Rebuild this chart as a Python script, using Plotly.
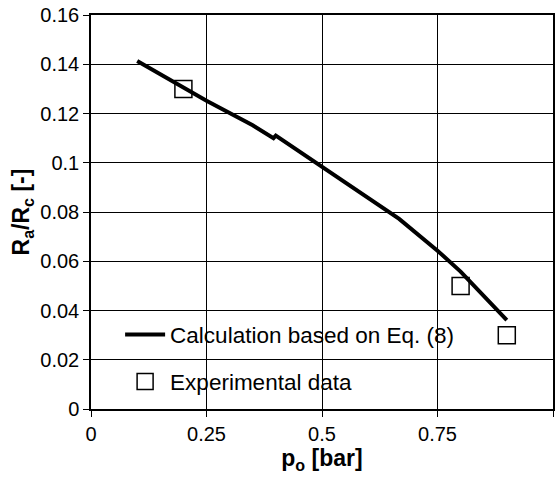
import plotly.graph_objects as go

# Calculated curve (Eq. 8)
calc_p = [0.10, 0.25, 0.35, 0.395, 0.40, 0.50, 0.61, 0.667, 0.75, 0.80, 0.90]
calc_r = [0.1413, 0.1252, 0.1152, 0.1100, 0.1110, 0.0985, 0.0847, 0.0772, 0.0643, 0.0558, 0.0361]

# Experimental data
exp_p = [0.2, 0.8, 0.9]
exp_r = [0.130, 0.050, 0.030]

x_ticks = [0, 0.25, 0.5, 0.75, 1]
x_labels = ["0", "0.25", "0.5", "0.75", "1"]
y_ticks = [0, 0.02, 0.04, 0.06, 0.08, 0.10, 0.12, 0.14, 0.16]
y_labels = ["0", "0.02", "0.04", "0.06", "0.08", "0.1", "0.12", "0.14", "0.16"]

FONT = "Arial, Liberation Sans, Helvetica, sans-serif"

fig = go.Figure()
fig.add_trace(go.Scatter(
    x=calc_p, y=calc_r, mode="lines",
    line=dict(color="black", width=4),
    name="Calculation based on Eq. (8)",
    legend="legend",
))
fig.add_trace(go.Scatter(
    x=exp_p, y=exp_r, mode="markers",
    marker=dict(symbol="square-open", size=17, color="black", line=dict(width=1.5, color="black")),
    name="Experimental data",
    legend="legend2",
))

# white area behind legend that hides the grid
fig.add_shape(type="rect", xref="paper", yref="paper",
              x0=0, x1=0.848, y0=0, y1=0.25,
              fillcolor="white", line=dict(width=0), layer="between")

axis_common = dict(
    showline=True, linecolor="black", linewidth=1.5, mirror=True,
    showgrid=True, gridcolor="black", gridwidth=1,
    ticks="outside", ticklen=6, tickcolor="black", tickwidth=1,
    zeroline=False,
    tickfont=dict(family=FONT, size=20, color="black"),
)

fig.update_xaxes(
    range=[0, 1], tickvals=x_ticks, ticktext=x_labels,
    title=dict(text="<b>p<sub>o</sub> [bar]</b>", font=dict(family=FONT, size=23, color="black"), standoff=2),
    **axis_common,
)
fig.update_yaxes(
    range=[0, 0.16], tickvals=y_ticks, ticktext=y_labels,
    title=dict(text="<b>R<sub>a</sub>/R<sub>c</sub> [-]</b>", font=dict(family=FONT, size=23, color="black"), standoff=4),
    **axis_common,
)

legend_common = dict(
    bgcolor="rgba(0,0,0,0)", borderwidth=0,
    font=dict(family=FONT, size=22.5, color="black"),
    xanchor="left", yanchor="middle", itemwidth=40,
)

fig.update_layout(
    width=555, height=478,
    margin=dict(l=91, r=2, t=15, b=69, autoexpand=False),
    paper_bgcolor="white", plot_bgcolor="white",
    showlegend=True,
    legend=dict(x=0.063, y=0.188, **legend_common),
    legend2=dict(x=0.063, y=0.069, **legend_common),
    font=dict(family=FONT, color="black"),
)

fig.write_html("out.html", config={"displayModeBar": False},
               post_script="document.body.style.margin='0';")
